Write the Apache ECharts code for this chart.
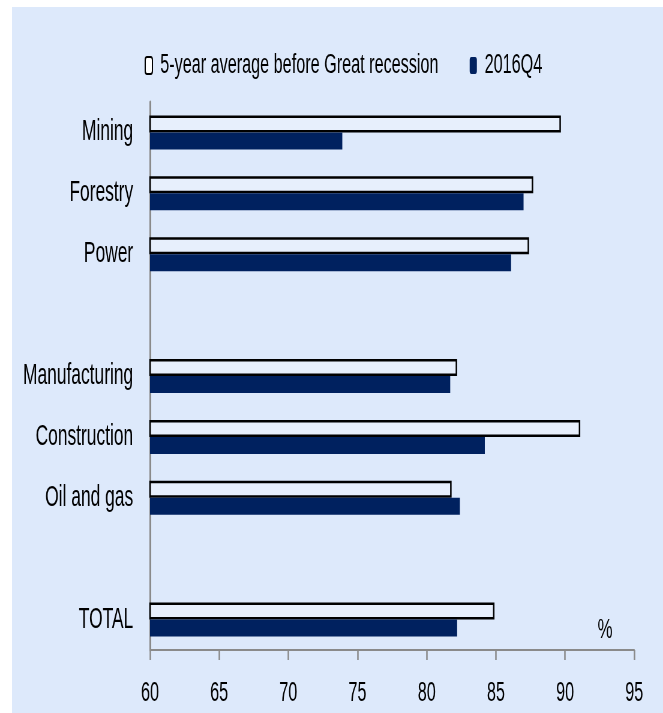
<!DOCTYPE html>
<html>
<head>
<meta charset="utf-8">
<script src="https://cdn.jsdelivr.net/npm/echarts@6/dist/echarts.min.js"></script>
<style>
  html, body { margin: 0; padding: 0; background: #fff; overflow: hidden; }
  /* the reference is squeezed sideways: draw wide, then scale x down */
  #chart { width: 1105px; height: 713px; transform: scaleX(0.6); transform-origin: 0 0; }
</style>
</head>
<body>
<div id="chart"></div>
<script>
// blank slots keep the gaps between sector groups
const categories = ['Mining', 'Forestry', 'Power', ' ', 'Manufacturing', 'Construction', 'Oil and gas', '  ', 'TOTAL']
const preRecession = [89.7, 87.7, 87.4, null, 82.2, 91.1, 81.8, null, 84.9]
const q4_2016 = [73.9, 87.0, 86.1, null, 81.7, 84.2, 82.4, null, 82.2]
const xTicks = [60, 65, 70, 75, 80, 85, 90, 95]

const font = "'Liberation Sans', Arial, sans-serif"
const bg = '#dde9fb'
const navy = '#00215f'
const axisGrey = '#8a8a8a'

const chart = echarts.init(document.getElementById('chart'))

const option = {
  backgroundColor: '#fff',
  animation: false,
  graphic: [
    {
      type: 'rect',
      z: -10,
      shape: { x: 20, y: 7, width: 1105, height: 713 },
      style: { fill: bg }
    },
    {
      type: 'text',
      left: 996,
      top: 616,
      style: { text: '%', fontFamily: font, fontSize: 28, fill: '#000' }
    }
  ],
  legend: {
    top: 47,
    left: 236,
    itemWidth: 12,
    itemHeight: 17,
    itemGap: 52,
    textStyle: { fontFamily: font, fontSize: 27, color: '#000', padding: [0, 0, 0, 8] },
    data: [
      { name: '5-year average before Great recession', itemStyle: { color: '#fff', borderColor: '#000', borderWidth: 2 } },
      { name: '2016Q4', itemStyle: { color: navy } }
    ]
  },
  grid: {
    left: 250,
    right: 48,
    top: 102,
    bottom: 63
  },
  xAxis: {
    type: 'value',
    min: xTicks[0],
    max: xTicks[xTicks.length - 1],
    interval: 5,
    axisLine: { show: true, lineStyle: { color: axisGrey, width: 2 } },
    axisTick: { show: true, length: 10, lineStyle: { color: axisGrey, width: 2.5 } },
    axisLabel: { fontFamily: font, fontSize: 27, color: '#000', margin: 30 },
    splitLine: { show: false }
  },
  yAxis: {
    type: 'category',
    inverse: true,
    data: categories,
    axisLine: { show: true, lineStyle: { color: axisGrey, width: 3 } },
    axisTick: { show: false },
    axisLabel: { fontFamily: font, fontSize: 29, color: '#000', margin: 28 }
  },
  series: [
    {
      name: '5-year average before Great recession',
      type: 'bar',
      data: preRecession,
      barWidth: 17,
      barGap: '0%',
      itemStyle: { color: 'rgba(255,255,255,0.3)', borderColor: '#000', borderWidth: 2.5 }
    },
    {
      name: '2016Q4',
      type: 'bar',
      data: q4_2016,
      barWidth: 17,
      barGap: '0%',
      itemStyle: { color: navy }
    }
  ]
}

chart.setOption(option)
</script>
</body>
</html>
